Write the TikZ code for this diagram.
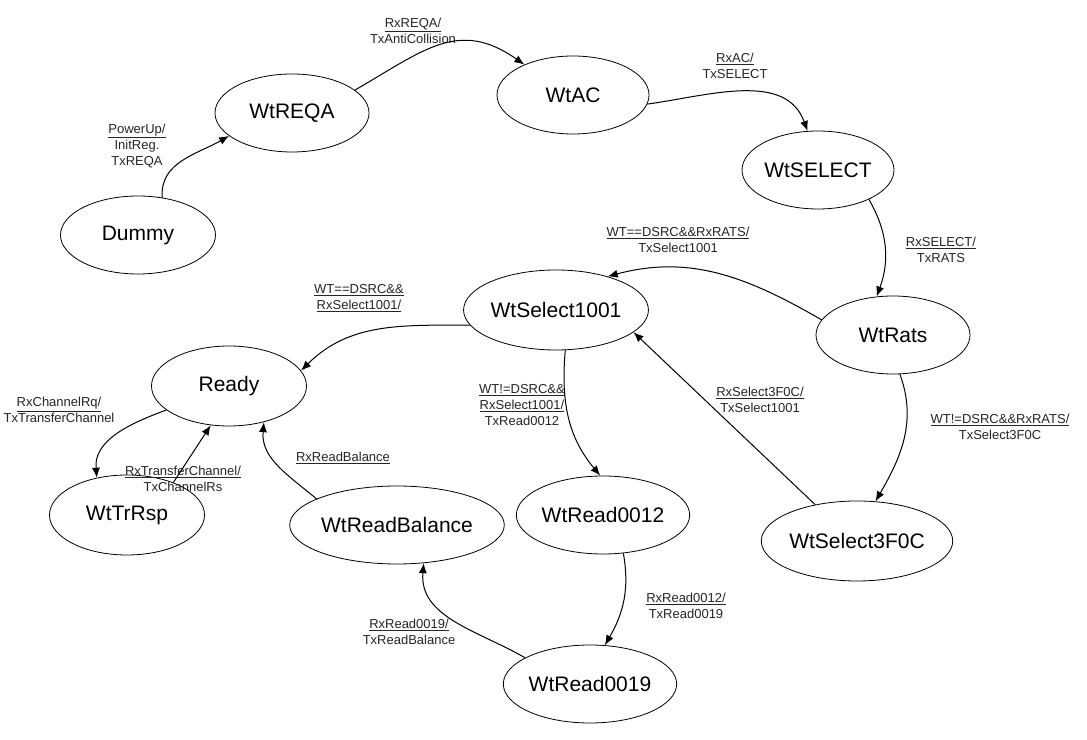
\documentclass[tikz,border=0pt]{standalone}
\usepackage{fontspec}
\setmainfont{Liberation Sans}
\usetikzlibrary{shapes.geometric,arrows.meta}
\tikzset{
  state/.style={ellipse,draw,line width=0.8pt,inner sep=0pt,minimum width=154pt,minimum height=78pt,font=\fontsize{21}{24}\selectfont},
  lbl/.style={align=center,inner sep=0pt,text=black!85,font=\fontsize{13}{16}\selectfont},
  tr/.style={line width=1pt,-{Latex[length=10pt,width=8pt]}}
}
\begin{document}
\begin{tikzpicture}[x=1pt,y=1pt]
\useasboundingbox (0,0) rectangle (1087,739);
\fill[white] (0,0) rectangle (1087,739);
% states
\node[state,minimum width=155pt] (dummy) at (138,504) {Dummy};
\node[state] (wtreqa) at (292,626) {WtREQA};
\node[state,minimum width=152pt] (wtac) at (573,644) {WtAC};
\node[state,minimum width=152pt] (wtselect) at (818,569) {WtSELECT};
\node[state,minimum height=80pt] (s1001) at (556,429) {WtSelect1001};
\node[state] (wtrats) at (893,404) {WtRats};
\node[state,minimum width=155pt,minimum height=80pt] (ready) at (229,353) {Ready};
\node[state,minimum width=155pt,minimum height=80pt] (wttrrsp) at (127,224) {WtTrRsp};
\node[state,minimum width=160pt] (wtreadbal) at (397,214) {WtReadBalance};
\node[state] (r0012) at (603,224) {WtRead0012};
\node[state,minimum width=156pt,minimum height=80pt] (s3f0c) at (857,198) {WtSelect3F0C};
\node[state] (r0019) at (590,55) {WtRead0019};
% labels
\node[lbl] (l1) at (137,593) {\underline{PowerUp/}\\InitReg.\\TxREQA};
\node[lbl] (l2) at (413,708) {\underline{RxREQA/}\\TxAntiCollision};
\node[lbl] (l3) at (735,673) {\underline{RxAC/}\\TxSELECT};
\node[lbl] (l4) at (941,489) {\underline{RxSELECT/}\\TxRATS};
\node[lbl] (l5) at (678,499) {\underline{WT==DSRC\&\&RxRATS/}\\TxSelect1001};
\node[lbl] (l6) at (359,441) {\underline{WT==DSRC\&\&}\\\underline{RxSelect1001/}};
\node[lbl] (l7) at (522,334) {\underline{WT!=DSRC\&\&}\\\underline{RxSelect1001/}\\TxRead0012};
\node[lbl] (l8) at (760,339) {\underline{RxSelect3F0C/}\\TxSelect1001};
\node[lbl] (l9) at (1000,312) {\underline{WT!=DSRC\&\&RxRATS/}\\TxSelect3F0C};
\node[lbl] (l10) at (59,329) {\underline{RxChannelRq/}\\TxTransferChannel};
\node[lbl] (l11) at (183,260) {\underline{RxTransferChannel/}\\TxChannelRs};
\node[lbl] (l12) at (343,281) {\underline{RxReadBalance}};
\node[lbl] (l13) at (686,133) {\underline{RxRead0012/}\\TxRead0019};
\node[lbl] (l14) at (409,107) {\underline{RxRead0019/}\\TxReadBalance};
% transitions
\draw[tr] (dummy.57) to[out=95,in=210] (wtreqa.200);
\draw[tr] (wtreqa.20) to[out=30,in=145,looseness=1.2] (wtac.148);
\draw[tr] (wtac.-7) to[out=8,in=110] (wtselect.105);
\draw[tr] (wtselect.-30) to[out=-60,in=70] (wtrats.113);
\draw[tr] (wtrats.168) to[out=150,in=15] (s1001.33);
\draw[tr] (s1001.190) to[out=180,in=45] (ready.12);
\draw[tr] (s1001.-77) to[out=-95,in=130] (r0012.94);
\draw[tr] (s3f0c.139) -- (s1001.-16);
\draw[tr] (wtrats.-80) to[out=-70,in=60] (s3f0c.65);
\draw[tr] (ready.201) to[out=200,in=95] (wttrrsp.129);
\draw[tr] (wttrrsp.35) -- (ready.-115);
\draw[tr] (wtreadbal.162) to[out=140,in=-95] (ready.-46);
\draw[tr] (r0012.-62) to[out=-80,in=60] (r0019.69);
\draw[tr] (r0019.158) to[out=150,in=-95] (wtreadbal.-55);
\end{tikzpicture}
\end{document}
